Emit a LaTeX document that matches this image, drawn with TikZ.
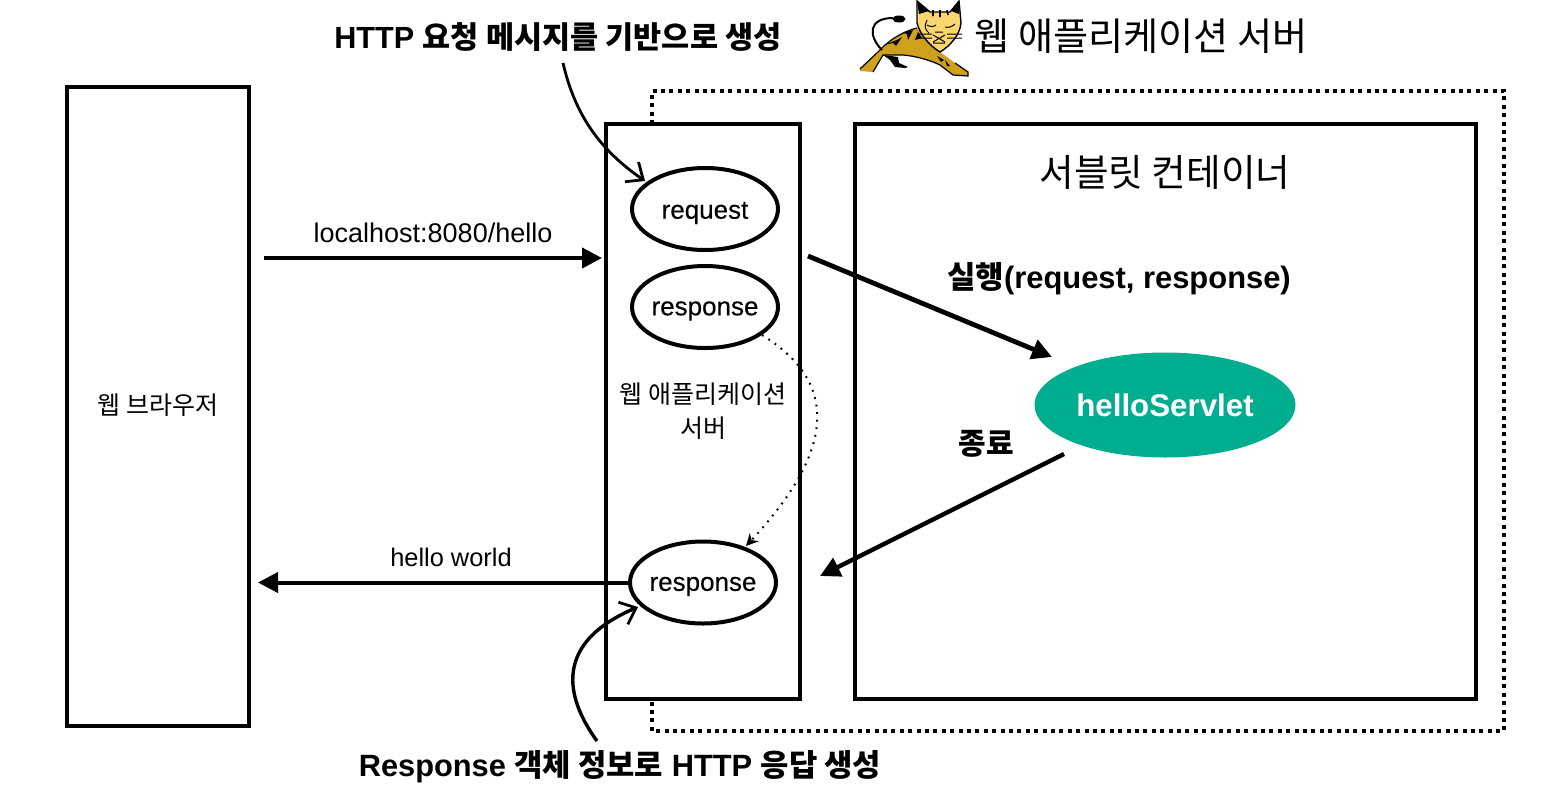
\documentclass[tikz,border=0pt]{standalone}
\usepackage{fontspec}
\setmainfont{Liberation Sans}
\newfontfamily\kr{Noto Sans CJK KR}
\newfontfamily\medium[FakeBold=0.25]{Liberation Sans}
\usetikzlibrary{arrows.meta,shapes.geometric}
\definecolor{servletgreen}{HTML}{00AD8E}
\definecolor{catgold}{HTML}{CDA01E}
\definecolor{cathead}{HTML}{FBD66F}
\newcommand{\K}[1]{{\kr #1}}
\tikzset{
 x=0.5pt,y=-0.5pt,
 boxline/.style={draw=black,line width=2pt,fill=none},
 oval/.style={draw=black,line width=2pt,fill=white,ellipse,minimum width=73pt,minimum height=41pt,inner sep=0pt},
 ovaltext/.style={inner sep=0pt,yshift=-2pt,font=\fontsize{13}{14}\selectfont\medium},
 lbl/.style={inner sep=0pt,font=\fontsize{12.5}{14}\selectfont},
 biglbl/.style={inner sep=0pt,font=\fontsize{15.3}{18}\bfseries\selectfont},
 headlbl/.style={inner sep=0pt,font=\fontsize{19.1}{22}\selectfont},
 thick arrow/.style={line width=2pt,-{Triangle[length=10pt,width=10pt]}},
 sketch arrow/.style={line width=1.4pt,-{Straight Barb[length=7pt,width=12pt,line width=1.4pt]}},
}
\begin{document}
\begin{tikzpicture}
\useasboundingbox (0,0) rectangle (1556,793);
\fill[white] (0,0) rectangle (1556,793);
% dotted outer frame
\coordinate (f1) at (652,124); \coordinate (f2) at (652,91); \coordinate (f3) at (1504,91);
\coordinate (f4) at (1504,731); \coordinate (f5) at (652,731); \coordinate (f6) at (652,699);
\draw[line width=2pt,dash pattern=on 2pt off 2.2pt] (f1) -- (f2) -- (f3) -- (f4) -- (f5) -- (f6);
% boxes
\node[boxline,minimum width=91pt,minimum height=319.5pt,inner sep=0pt,anchor=center] (browser) at (158,406.5) {};
\node[lbl] (browserlbl) at (158,405) {\K{웹 브라우저}};
\node[boxline,minimum width=97pt,minimum height=287.5pt,inner sep=0pt] (was) at (703,411.5) {};
\node[boxline,minimum width=310.5pt,minimum height=287.5pt,inner sep=0pt] (container) at (1165.5,411.5) {};
\node[lbl,align=center] (waslbl) at (703,411) {\K{웹 애플리케이션}\\[3pt]\K{서버}};
\node[headlbl,font=\fontsize{18.8}{22}\selectfont] (conlbl) at (1165,172) {\K{서블릿 컨테이너}};
% ovals
\node[oval] (req) at (705,209) {};
\node[ovaltext] (reqtext) at (req.center) {request};
\node[oval] (res) at (705,307) {};
\node[ovaltext] (restext) at (res.center) {response};
\node[oval] (res2) at (703,582.5) {};
\node[ovaltext] (res2text) at (res2.center) {response};
\node[ellipse,fill=servletgreen,minimum width=130.5pt,minimum height=52.5pt,inner sep=0pt] (servlet) at (1165,405) {};
\node[inner sep=0pt,text=white,font=\fontsize{15.65}{18}\bfseries\selectfont] (servlettext) at (servlet.center) {helloServlet};
% labels
\node[biglbl] (top) at (558,37) {HTTP \K{요청 메시지를 기반으로 생성}};
\node[biglbl,font=\fontsize{15.4}{18}\bfseries\selectfont] (bottom) at (620,767) {Response \K{객체 정보로} HTTP \K{응답 생성}};
\node[headlbl] (title) at (1141,36) {\K{웹 애플리케이션 서버}};
\node[lbl,font=\fontsize{13.5}{14}\selectfont] (url) at (433,233) {localhost:8080/hello};
\node[lbl,font=\fontsize{12.7}{14}\selectfont] (hw) at (451,557) {hello world};
\node[inner sep=0pt,font=\fontsize{15.45}{18}\bfseries\selectfont] (run) at (1119,279) {\K{실행}(request, response)};
\node[inner sep=0pt,font=\fontsize{15}{18}\bfseries\selectfont] (end) at (986,444) {\K{종료}};
% main arrows
\coordinate (a1) at (264,258); \coordinate (a2) at (602,258);
\draw[thick arrow] (a1) -- (a2);
\coordinate (b2) at (258,582.5);
\draw[thick arrow] (res2.west) -- (b2);
\coordinate (c1) at (808,256); \coordinate (c2) at (1052,357);
\draw[thick arrow,line width=2.4pt] (c1) -- (c2);
\coordinate (d1) at (1064,454); \coordinate (d2) at (820,576);
\draw[thick arrow,line width=2.2pt] (d1) -- (d2);
% dotted curve
\coordinate (e1) at (762,335); \coordinate (e2) at (746,546);
\draw[line width=1pt,dash pattern=on 0.9pt off 2.9pt,-{Stealth[length=6pt,width=6pt]}] (e1) .. controls (835,380) and (840,445) .. (e2);
% sketch arrows
\coordinate (g1) at (563,63); \coordinate (g2) at (645,181);
\draw[sketch arrow] (g1) .. controls (575,115) and (600,150) .. (g2);
\coordinate (h1) at (597,741); \coordinate (h2) at (638,607);
\draw[sketch arrow,line width=1.7pt] (h1) .. controls (560,690) and (560,640) .. (h2);
% tomcat: body
\fill[catgold] (860,68) -- (880,50) .. controls (885,44) and (900,32) .. (917,28)
 -- (940,52) -- (955,63) -- (968,72) -- (968,76) -- (953,75) -- (940,65) .. controls (930,60) and (915,56) .. (903,55)
 -- (883,55) -- (873,72) -- (860,71) -- cycle;
\draw[black,line width=0.6pt] (860,69) -- (880,50) .. controls (885,44) and (900,32) .. (917,28);
\draw[black,line width=0.6pt] (873,72) -- (883,55) -- (903,55) .. controls (915,56) and (930,60) .. (940,65) -- (953,75) -- (968,76) -- (968,72) -- (955,63);
% hind leg and stripes
\fill[black] (883,55) -- (898,57) -- (899,63) -- (908,67) -- (905,68) -- (895,67) -- (890,60) -- cycle;
\fill[black] (884,45) -- (897,40) -- (902,37) -- (896,46) -- (893,43) -- cycle
 (903,33) -- (913,30) -- (908,40) -- (907,34) -- cycle
 (918,32) -- (922,38) -- (915,40) -- cycle
 (937,56) -- (944,60) -- (941,62) -- cycle
 (945,60) -- (950,66) -- (947,66) -- cycle;
% tail
\draw[black,line width=1pt] (882,50) .. controls (868,36) and (868,18) .. (893,18);
\fill[black] (899,19) ellipse [x radius=6.5,y radius=3.5];
% head
\fill[cathead,draw=black,line width=0.7pt] (917,1) -- (930,12) -- (950,12) -- (959,1) -- (961,23) .. controls (960,35) and (950,46) .. (940,52) .. controls (930,46) and (920,35) .. (917,23) -- cycle;
\fill[black] (917,1) -- (929,11) -- (919,14) -- cycle (959,1) -- (951,11) -- (959,14) -- cycle;
\draw[black,line width=0.5pt] (917,34) -- (932,34) (917,38) -- (932,38) (947,34) -- (962,34) (947,38) -- (962,38)
 (927,25) .. controls (930,27) and (934,27) .. (936,25) (945,27) .. controls (948,28) and (952,27) .. (955,24)
 (935,32) -- (943,32) (933,35) -- (945,42) (945,35) -- (933,42) (933,43) -- (945,43)
 (927,20) .. controls (924,26) and (925,30) .. (929,33);
\draw[black,line width=0.8pt] (933,10) -- (933,16) (940,10) -- (940,17) (947,10) -- (948,15);
\end{tikzpicture}
\end{document}
